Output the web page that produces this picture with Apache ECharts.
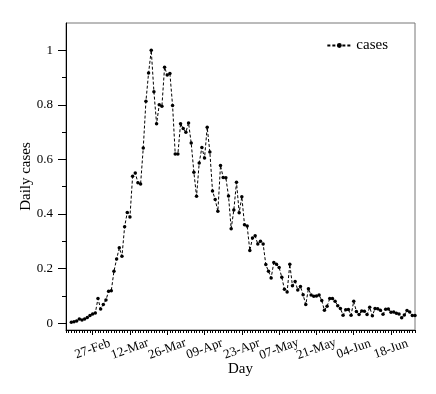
<!DOCTYPE html>
<html><head><meta charset="utf-8">
<script src="https://cdn.jsdelivr.net/npm/echarts@6/dist/echarts.min.js"></script>
<style>html,body{margin:0;padding:0;background:#fff}#c{width:436px;height:394px}</style>
</head><body><div id="c"></div>
<script>
const startDate = '2020-02-19';
const cases = [
  0.003,0.005,0.008,0.015,0.012,0.015,0.021,0.028,0.034,0.037,
  0.090,0.052,0.068,0.085,0.117,0.119,0.190,0.235,0.276,0.245,
  0.353,0.406,0.389,0.538,0.550,0.515,0.510,0.642,0.813,0.917,
  1.000,0.848,0.731,0.800,0.795,0.938,0.909,0.915,0.798,0.620,
  0.620,0.731,0.713,0.700,0.734,0.660,0.553,0.465,0.587,0.644,
  0.605,0.718,0.627,0.484,0.453,0.410,0.578,0.534,0.533,0.466,
  0.346,0.415,0.516,0.405,0.463,0.361,0.356,0.266,0.312,0.320,
  0.290,0.300,0.290,0.215,0.190,0.166,0.222,0.216,0.204,0.168,
  0.124,0.114,0.216,0.137,0.153,0.122,0.134,0.104,0.068,0.126,
  0.103,0.099,0.100,0.103,0.083,0.047,0.062,0.090,0.090,0.080,
  0.064,0.054,0.029,0.049,0.050,0.029,0.080,0.043,0.032,0.045,
  0.044,0.032,0.058,0.027,0.054,0.053,0.047,0.033,0.051,0.052,
  0.040,0.041,0.036,0.034,0.020,0.030,0.046,0.041,0.028,0.028
];
const xTickLabels = ['27-Feb','12-Mar','26-Mar','09-Apr','23-Apr','07-May','21-May','04-Jun','18-Jun'];
const yTickLabels = ['0','0.2','0.4','0.6','0.8','1'];

const MON_NAMES = ['Jan','Feb','Mar','Apr','May','Jun','Jul'];
const DAY = 86400000;
// x unit: days relative to the first labelled date (27-Feb-2020)
const ref = Date.UTC(2020, 1, 27);
const dayIdx = ms => Math.round((ms - ref) / DAY);
const d0 = dayIdx(Date.parse(startDate + 'T00:00:00Z'));
const seriesData = cases.map((v, i) => [d0 + i, v]);
const fmtDate = v => xTickLabels[Math.round(v / 14)] || '';

// layout
const W = 436, H = 394;
const GL = 66, GR = 21, GT = 23, GB = 64;
const xMin = -10, xMax = 121;           // 17-Feb .. 27-Jun
const yMin = -0.025, yMax = 1.1;
const plotW = W - GL - GR, plotH = H - GT - GB;
const ppd = plotW / (xMax - xMin);
const ppu = plotH / (yMax - yMin);
const yPix = v => GT + (yMax - v) * ppu;
const xPix = d => GL + (d - xMin) * ppd;
const majorMax = 14 * (xTickLabels.length - 1);
const oddMax = 14 * (xTickLabels.length - 2);

const FONT = "'Liberation Serif','Times New Roman',serif";
const noLine = {show: false, onZero: false};
const labelStyle = {show: true, formatter: fmtDate, rotate: 20, align: 'center', verticalAlign: 'middle', margin: 19,
  fontFamily: FONT, fontSize: 13, color: '#000', hideOverlap: false, showMinLabel: true, showMaxLabel: true};

const chart = echarts.init(document.getElementById('c'), null, {renderer: 'canvas'});
chart.setOption({
  animation: false,
  backgroundColor: '#fff',
  textStyle: {fontFamily: FONT, color: '#000'},
  grid: [
    {left: GL, right: GR, top: GT, bottom: GB, show: true, borderColor: '#777', borderWidth: 1, backgroundColor: 'transparent'},
    {left: GL, right: GR, top: yPix(1), bottom: H - yPix(0)},
    {left: xPix(0), right: W - xPix(majorMax), top: GT, bottom: GB},
    {left: xPix(14), right: W - xPix(oddMax), top: GT, bottom: GB}
  ],
  legend: {
    data: ['cases'], right: 43, top: 33, itemWidth: 24, itemHeight: 6, itemGap: 4,
    textStyle: {fontFamily: FONT, fontSize: 15, color: '#000'}
  },
  xAxis: [{
    gridIndex: 0, type: 'value', min: xMin, max: xMax, interval: 1, position: 'bottom',
    axisLine: {show: true, onZero: false, lineStyle: {color: '#000', width: 1}},
    axisTick: {show: true, length: 3, lineStyle: {color: '#000'}},
    axisLabel: {show: false},
    splitLine: {show: false},
    name: 'Day', nameLocation: 'middle', nameGap: 32,
    nameTextStyle: {fontFamily: FONT, fontSize: 15, color: '#000'}
  }, {
    gridIndex: 1, type: 'value', min: xMin, max: xMax, show: false, axisLine: noLine
  }, {
    gridIndex: 2, type: 'value', min: 0, max: majorMax, interval: 14, position: 'bottom',
    axisLine: noLine,
    axisTick: {show: true, length: 5, lineStyle: {color: '#000'}},
    axisLabel: {show: false},
    splitLine: {show: false}
  }, {
    gridIndex: 2, type: 'value', min: 0, max: majorMax, interval: 28, position: 'bottom', offset: 0,
    axisLine: noLine, axisTick: {show: false}, splitLine: {show: false},
    axisLabel: labelStyle
  }, {
    gridIndex: 3, type: 'value', min: 14, max: oddMax, interval: 28, position: 'bottom',
    axisLine: noLine, axisTick: {show: false}, splitLine: {show: false},
    axisLabel: labelStyle
  }],
  yAxis: [{
    gridIndex: 0, type: 'value', min: yMin, max: yMax, position: 'left',
    axisLine: {show: true, onZero: false, lineStyle: {color: '#000', width: 1}},
    axisTick: {show: false},
    axisLabel: {show: false},
    splitLine: {show: false},
    name: 'Daily cases', nameLocation: 'middle', nameGap: 32,
    nameTextStyle: {fontFamily: FONT, fontSize: 15, color: '#000'}
  }, {
    gridIndex: 1, type: 'value', min: 0, max: 1, interval: 0.1, position: 'left',
    axisLine: noLine,
    axisTick: {show: true, length: 4, lineStyle: {color: '#000'}},
    axisLabel: {show: false},
    splitLine: {show: false}
  }, {
    gridIndex: 1, type: 'value', min: 0, max: 1, interval: 0.2, position: 'left', offset: 0,
    axisLine: noLine,
    axisTick: {show: true, length: 8, lineStyle: {color: '#000'}},
    axisLabel: {show: true, margin: 13, fontFamily: FONT, fontSize: 13, color: '#000',
      formatter: v => yTickLabels[Math.round(v / 0.2)] || ''},
    splitLine: {show: false}
  }, {
    gridIndex: 2, type: 'value', min: yMin, max: yMax, show: false, axisLine: noLine
  }, {
    gridIndex: 3, type: 'value', min: yMin, max: yMax, show: false, axisLine: noLine
  }],
  series: [{
    name: 'cases', type: 'line', xAxisIndex: 0, yAxisIndex: 0,
    data: seriesData,
    symbol: 'circle', symbolSize: 3.5, showSymbol: true,
    itemStyle: {color: '#000'},
    lineStyle: {color: '#000', width: 1, type: [3, 2]},
    emphasis: {disabled: true}
  }]
});
</script>
</body></html>
